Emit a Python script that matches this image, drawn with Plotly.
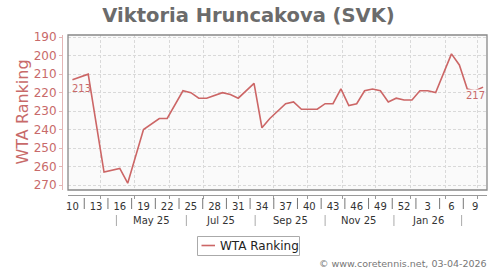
import plotly.graph_objects as go
import pandas as pd

# ---- data ----
dates = ["2025-03-07", "2025-03-21", "2025-04-04", "2025-04-18", "2025-04-25",
         "2025-05-09", "2025-05-23", "2025-05-30", "2025-06-13", "2025-06-20",
         "2025-06-27", "2025-07-04", "2025-07-18", "2025-07-25", "2025-08-01",
         "2025-08-15", "2025-08-22", "2025-08-29", "2025-09-12", "2025-09-19",
         "2025-09-26", "2025-10-10", "2025-10-17", "2025-10-24", "2025-10-31",
         "2025-11-07", "2025-11-14", "2025-11-21", "2025-11-28", "2025-12-05",
         "2025-12-12", "2025-12-19", "2025-12-26", "2026-01-02", "2026-01-09",
         "2026-01-16", "2026-01-23", "2026-02-06", "2026-02-13", "2026-02-20",
         "2026-02-27", "2026-03-06"]
ranks = [213, 210, 263, 261, 269,
         240, 234, 234, 219, 220,
         223, 223, 220, 221, 223,
         215, 239, 234, 226, 225,
         229, 229, 226, 226, 218,
         227, 226, 219, 218, 219,
         225, 223, 224, 224, 219,
         219, 220, 199, 205, 218,
         219, 217]

week_tick_dates = ["2025-03-07", "2025-03-28", "2025-04-18", "2025-05-09", "2025-05-30",
                   "2025-06-20", "2025-07-11", "2025-08-01", "2025-08-22", "2025-09-12",
                   "2025-10-03", "2025-10-24", "2025-11-14", "2025-12-05", "2025-12-26",
                   "2026-01-16", "2026-02-06", "2026-02-27"]
week_tick_labels = ["10", "13", "16", "19", "22", "25", "28", "31", "34", "37",
                    "40", "43", "46", "49", "52", "3", "6", "9"]

month_label_dates = ["2025-05-16", "2025-07-16", "2025-09-16", "2025-11-16", "2026-01-16"]
month_labels = ["May 25", "Jul 25", "Sep 25", "Nov 25", "Jan 26"]
month_sep_dates = ["2025-04-15", "2025-06-16", "2025-08-16", "2025-10-17", "2025-12-17", "2026-02-15"]

grid_month_dates = [d.strftime("%Y-%m-%d") for d in pd.date_range("2025-04-01", "2026-03-01", freq="MS")]
y_ticks = [190, 200, 210, 220, 230, 240, 250, 260, 270]
series_name = "WTA Ranking"

# ---- style ----
FONT = "DejaVu Sans"
RED = "#cc6666"
RED_TXT = "#c86a6a"
PINK_AXIS = "#e3b5b5"
GRID = "#d9d9d9"

W, H = 500, 270
ML, MR, MT, MB = 62, 13, 35, 75
PW = W - ML - MR
PH = H - MT - MB


def px_to_paper_x(px):
    return (px - ML) / PW


def px_to_paper_y(py):
    return (H - MB - py) / PH


x_range = ["2025-03-03 02:00", "2026-03-09 12:00"]
x_dom = [px_to_paper_x(68), 1]
y_dom = [px_to_paper_y(190), 1]

fig = go.Figure()
fig.add_trace(go.Scatter(x=dates, y=ranks, mode="lines", name=series_name,
                         line=dict(color=RED, width=1.6), hoverinfo="x+y", showlegend=False))
fig.add_trace(go.Scatter(x=[dates[0]], y=[ranks[0]], xaxis="x2", mode="markers",
                         marker=dict(opacity=0), showlegend=False, hoverinfo="skip"))

shapes = []
# plot frame
shapes.append(dict(type="rect", xref="x domain", yref="y domain", x0=0, x1=1, y0=0, y1=1,
                   line=dict(color="#888888", width=1.3), layer="above"))
# separators between week labels
wk = pd.to_datetime(week_tick_dates)
for a, b in zip(wk[:-1], wk[1:]):
    mid = a + (b - a) / 2
    shapes.append(dict(type="line", xref="x", yref="paper", x0=mid, x1=mid,
                       y0=px_to_paper_y(198), y1=px_to_paper_y(209),
                       line=dict(color="#777777", width=1)))
# separators of month row
for d in month_sep_dates:
    shapes.append(dict(type="line", xref="x", yref="paper", x0=d, x1=d,
                       y0=px_to_paper_y(215), y1=px_to_paper_y(226),
                       line=dict(color="#aaaaaa", width=1)))
# legend box (drawn by hand so it does not push the margins)
shapes.append(dict(type="rect", xref="paper", yref="paper",
                   x0=px_to_paper_x(197.5), x1=px_to_paper_x(299.5),
                   y0=px_to_paper_y(255.5), y1=px_to_paper_y(236.5),
                   line=dict(color="#aaaaaa", width=1), fillcolor="white"))
shapes.append(dict(type="line", xref="paper", yref="paper",
                   x0=px_to_paper_x(201.5), x1=px_to_paper_x(215),
                   y0=px_to_paper_y(245.5), y1=px_to_paper_y(245.5),
                   line=dict(color=RED, width=1.6)))

annotations = []
annotations.append(dict(text="WTA Ranking", xref="paper", yref="paper",
                        x=px_to_paper_x(22), y=px_to_paper_y(112.5), textangle=-90,
                        showarrow=False, xanchor="center", yanchor="middle",
                        font=dict(family=FONT, size=16, color=RED_TXT)))
for d, t in zip(month_label_dates, month_labels):
    annotations.append(dict(text=t, xref="x", yref="paper", x=d, y=px_to_paper_y(220.5),
                            showarrow=False, xanchor="center", yanchor="middle",
                            font=dict(family=FONT, size=10, color="#333333")))
annotations.append(dict(text=str(ranks[0]), xref="x", yref="y", x=dates[0], y=ranks[0],
                        showarrow=False, xanchor="left", yanchor="top", yshift=-1, xshift=-2,
                        font=dict(family=FONT, size=10, color=RED_TXT)))
annotations.append(dict(text=str(ranks[-1]), xref="x", yref="y", x=dates[-1], y=ranks[-1],
                        showarrow=False, xanchor="right", yanchor="top", yshift=-2, xshift=3,
                        bgcolor="#fafafa", borderpad=0,
                        font=dict(family=FONT, size=10, color=RED_TXT)))
annotations.append(dict(text=series_name, xref="paper", yref="paper",
                        x=px_to_paper_x(218), y=px_to_paper_y(245.5), showarrow=False,
                        xanchor="left", yanchor="middle",
                        font=dict(family=FONT, size=12, color="#222222")))
annotations.append(dict(text="© www.coretennis.net, 03-04-2026", xref="paper", yref="paper",
                        x=px_to_paper_x(489), y=px_to_paper_y(263.5), showarrow=False,
                        xanchor="right", yanchor="middle",
                        font=dict(family=FONT, size=9.5, color="#777777")))

fig.update_layout(
    width=W, height=H,
    margin=dict(l=ML, r=MR, t=MT, b=MB, pad=0, autoexpand=False),
    paper_bgcolor="white", plot_bgcolor="#fafafa",
    font=dict(family=FONT),
    title=dict(text="<b>Viktoria Hruncakova (SVK)</b>", x=0.497, xref="container", xanchor="center",
               y=1 - 15 / H, yref="container", yanchor="middle",
               font=dict(family=FONT, size=19.5, color="#6b6b6b")),
    showlegend=False,
    xaxis=dict(type="date", range=x_range, domain=x_dom, anchor="free", position=0,
               tickmode="array", tickvals=week_tick_dates, ticktext=week_tick_labels,
               showgrid=False, zeroline=False, showline=True, linecolor="#999999", linewidth=1,
               ticks="", ticklabelstandoff=2, automargin=False,
               tickfont=dict(family=FONT, size=10, color="#333333")),
    xaxis2=dict(type="date", range=x_range, domain=x_dom, overlaying="x", anchor="free", position=0,
                tickmode="array", tickvals=grid_month_dates, showticklabels=False,
                showgrid=True, gridcolor=GRID, griddash="3px,2px", gridwidth=1, automargin=False,
                ticks="outside", ticklen=3, tickcolor="#999999", showline=False, zeroline=False),
    yaxis=dict(range=[272.7, 188.8], domain=y_dom, anchor="free", position=0,
               tickmode="array", tickvals=y_ticks, automargin=False,
               showgrid=True, gridcolor=GRID, griddash="3px,2px", gridwidth=1,
               ticks="outside", ticklen=3, tickcolor=PINK_AXIS,
               showline=True, linecolor=PINK_AXIS, linewidth=1, zeroline=False,
               tickfont=dict(family=FONT, size=12, color=RED_TXT)),
    shapes=shapes,
    annotations=annotations,
)

fig.write_html("out.html")
